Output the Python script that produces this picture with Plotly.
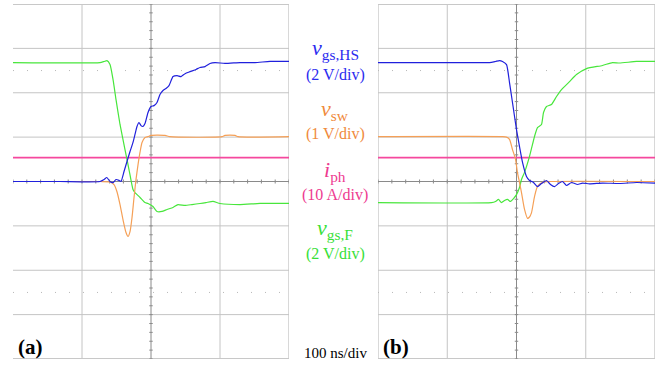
import numpy as np
import plotly.graph_objects as go

# ---------------- data (time in ns, values in V or A) ----------------
# Panel (a)
t_hs_a = [-200, -132, -74, -68, -64, -59.4, -55, -50.7, -46.4, -43.5, -39.1, -34.8, -30.4, -26.1,
          -23.2, -20.3, -17.4, -14.5, -11.6, -8.7, -4.3, 0, 4.3, 8.7, 13, 17.4, 21.7, 26.1, 31.9,
          37.7, 43.5, 49.3, 56.5, 65.2, 71, 78.3, 85.5, 92.8, 107.2, 129, 150.7, 172.5, 200]
v_hs_a = [0, 0, 0, 0.09, 0.18, 0, -0.05, 0.09, 0.05, 0, 0.45, 0.9, 1.35, 1.76,
          2.12, 2.48, 2.66, 2.52, 2.48, 2.61, 3.11, 3.38, 3.42, 3.56, 3.92, 4.10, 4.19, 4.32, 4.73,
          4.77, 4.73, 4.86, 4.95, 5.05, 5.14, 5.18, 5.32, 5.36, 5.32, 5.36, 5.36, 5.41, 5.41]

t_sw_a = [-200, -74, -59.4, -53.6, -49.3, -44.9, -40.6, -36.2, -33.3, -30.4, -27.5, -24.6, -21.7,
          -18.8, -15.9, -13.0, -8.7, -4.3, 0, 20.3, 27.5, 102.9, 107.2, 121.7, 126.1, 200]
v_sw_a = [0, 0, -0.01, -0.07, -0.23, -0.52, -0.86, -1.15, -1.24, -1.13, -0.81, -0.36, 0.05,
          0.38, 0.66, 0.88, 0.99, 1.01, 1.04, 1.04, 1.01, 1.01, 1.04, 1.04, 1.01, 1.01]

t_ph_a = [-200, 200]
i_ph_a = [5.4, 5.4]

t_f_a = [-200, -74, -68, -63.8, -59.4, -55, -50.7, -44.9, -37.7, -31.9, -26.1, -23.2, -15.9, -8.7,
         -4.3, 2.9, 8.7, 15.9, 23.2, 31.9, 39.1, 49.3, 59.4, 71, 79.7, 89.9, 100, 129, 158, 200]
v_f_a = [5.36, 5.36, 5.41, 5.45, 5.27, 4.59, 3.69, 2.57, 1.44, 0.54, -0.36, -0.50, -0.72, -0.95,
         -0.99, -1.13, -1.35, -1.35, -1.26, -1.17, -1.04, -1.08, -1.04, -0.99, -0.95, -0.90, -0.99,
         -1.04, -0.99, -0.99]

# Panel (b)
t_hs_b = [-200, -96.8, -39, -30.3, -24.5, -20.2, -14.4, -10.1, -5.8, 0, 4.3, 8.7, 14.4, 18.8, 24.5,
          30.3, 36.1, 43.3, 49.1, 54.9, 60.6, 66.4, 72.2, 79.4, 88.1, 95.3, 105.4, 124.2, 148.7,
          173.3, 200]
v_hs_b = [5.36, 5.36, 5.36, 5.41, 5.45, 5.41, 5.27, 4.46, 3.56, 2.34, 1.58, 0.86, 0.23, 0.045, -0.045,
          -0.23, -0.09, 0.045, -0.135, -0.23, -0.09, 0, -0.18, -0.045, -0.135, -0.07, -0.11, -0.07,
          -0.09, -0.045, -0.07]

t_sw_b = [-200, -20, -14.4, -10.1, -5.8, -1.4, 1.4, 4.3, 7.2, 11.6, 15.9, 18.8, 21.7, 26.0, 30.3,
          37.5, 47.7, 200]
v_sw_b = [1.01, 1.01, 1.0, 0.95, 0.72, 0.50, 0.20, -0.02, -0.25, -0.63, -0.83, -0.80, -0.70, -0.34,
          -0.11, -0.02, 0, 0]

t_ph_b = [-200, 200]
i_ph_b = [5.4, 5.4]

t_f_b = [-200, -36.1, -30.3, -26.0, -21.7, -17.3, -13.0, -8.7, -4.3, 0, 4.3, 7.2, 11.6, 18.8, 26.0,
         30.3, 36.1, 39.0, 43.3, 50.5, 57.8, 65.0, 76.5, 86.6, 101.1, 124.2, 138.6, 148.7, 173.3, 200]
v_f_b = [-0.95, -0.95, -0.90, -0.81, -0.95, -0.86, -0.81, -0.90, -0.77, -0.59, -0.27, 0.09, 0.41,
         1.13, 2.03, 2.43, 2.57, 3.11, 3.38, 3.47, 3.83, 4.14, 4.50, 4.82, 5.09, 5.23, 5.36, 5.34,
         5.41, 5.41]

# scope settings: units per division
scale_hs = 2    # V/div
scale_sw = 1    # V/div
scale_ph = 10   # A/div
scale_f = 2     # V/div
time_div = 100  # ns/div

C_HS = "#2020dc"
C_SW = "#f5a057"
C_PH = "#f5489e"
C_F = "#48e63c"

W, H = 665, 368
fig = go.Figure()

panels = [
    ("x", "y", t_hs_a, v_hs_a, t_sw_a, v_sw_a, t_ph_a, i_ph_a, t_f_a, v_f_a),
    ("x2", "y2", t_hs_b, v_hs_b, t_sw_b, v_sw_b, t_ph_b, i_ph_b, t_f_b, v_f_b),
]

LW = 1.2
for xr, yr, ths, vhs, tsw, vsw, tph, iph, tf, vf in panels:
    fig.add_trace(go.Scatter(x=tph, y=np.array(iph) / scale_ph, mode="lines",
                             line=dict(color=C_PH, width=1.8), xaxis=xr, yaxis=yr, showlegend=False))
    fig.add_trace(go.Scatter(x=tf, y=np.array(vf) / scale_f, mode="lines", line_shape="spline",
                             line=dict(color=C_F, width=LW, smoothing=0.5), xaxis=xr, yaxis=yr,
                             showlegend=False))
    fig.add_trace(go.Scatter(x=tsw, y=np.array(vsw) / scale_sw, mode="lines", line_shape="spline",
                             line=dict(color=C_SW, width=LW, smoothing=0.6), xaxis=xr, yaxis=yr,
                             showlegend=False))
    fig.add_trace(go.Scatter(x=ths, y=np.array(vhs) / scale_hs, mode="lines", line_shape="spline",
                             line=dict(color=C_HS, width=LW, smoothing=0.5), xaxis=xr, yaxis=yr,
                             showlegend=False))

ydom = [1 - 359 / H, 1 - 4 / H]
axcommon = dict(visible=False, fixedrange=True)
fig.update_layout(
    width=W, height=H,
    margin=dict(l=0, r=0, t=0, b=0),
    paper_bgcolor="white", plot_bgcolor="white",
    xaxis=dict(domain=[13 / W, 289 / W], range=[-2 * time_div, 2 * time_div], anchor="y", **axcommon),
    yaxis=dict(domain=ydom, range=[-4, 4], anchor="x", **axcommon),
    xaxis2=dict(domain=[378 / W, 655 / W], range=[-2 * time_div, 2 * time_div], anchor="y2", **axcommon),
    yaxis2=dict(domain=ydom, range=[-4, 4], anchor="x2", **axcommon),
)

GRID = "#c4c4c4"
AXIS = "#8a8a8a"
shapes = []
for xr, yr, left_edge in (("x", "y", False), ("x2", "y2", True)):
    xs = [-100, 100, 200] + ([-200] if left_edge else [])
    for xv in xs:
        shapes.append(dict(type="line", xref=xr, yref=yr, x0=xv, x1=xv, y0=-4, y1=4,
                           line=dict(color=GRID, width=1.3 if abs(xv) == 200 else 1), layer="below"))
    for yv in (-3, -2, -1, 1, 2, 3):
        shapes.append(dict(type="line", xref=xr, yref=yr, x0=-200, x1=200, y0=yv, y1=yv,
                           line=dict(color=GRID, width=1), layer="below"))
    for yv in (-4, 4):
        shapes.append(dict(type="line", xref=xr, yref=yr, x0=-200, x1=200, y0=yv, y1=yv,
                           line=dict(color="#c8c8c8", width=2), layer="below"))
    for yv in (-2.5, 2.5):
        shapes.append(dict(type="line", xref=xr, yref=yr, x0=-200, x1=200, y0=yv, y1=yv,
                           line=dict(color="#b8b8b8", width=1, dash="1px,13px"), layer="below"))
    # center axes
    shapes.append(dict(type="line", xref=xr, yref=yr, x0=0, x1=0, y0=-4, y1=4,
                       line=dict(color=AXIS, width=1), layer="below"))
    shapes.append(dict(type="line", xref=xr, yref=yr, x0=-200, x1=200, y0=0, y1=0,
                       line=dict(color=AXIS, width=1), layer="below"))
    for yv in np.arange(-4, 4.001, 0.2):
        shapes.append(dict(type="line", xref=xr, yref=yr, x0=-2.5, x1=2.5, y0=yv, y1=yv,
                           line=dict(color=AXIS, width=1), layer="below"))
    for xv in np.arange(-200, 200.1, 20):
        shapes.append(dict(type="line", xref=xr, yref=yr, x0=xv, x1=xv, y0=-0.045, y1=0.045,
                           line=dict(color=AXIS, width=1), layer="below"))
fig.update_layout(shapes=shapes)

SERIF = "Liberation Serif"
labels = [
    ("<i>v</i><sub>gs,HS</sub>", 49, 22, "#2b2bef"),
    ("(2 V/div)", 75, 16, "#2b2bef"),
    ("<i>v</i><sub>sw</sub>", 110, 22, "#f08a3c"),
    ("(1 V/div)", 134, 16, "#f08a3c"),
    ("<i>i</i><sub>ph</sub>", 171, 22, "#ee3a90"),
    ("(10 A/div)", 195, 16, "#ee3a90"),
    ("<i>v</i><sub>gs,F</sub>", 229, 22, "#38e038"),
    ("(2 V/div)", 254, 16, "#38e038"),
    ("100 ns/div", 353, 15, "black"),
]
ann = []
for txt, ypx, size, col in labels:
    ann.append(dict(text=txt, x=335 / W, y=1 - ypx / H, xref="paper", yref="paper",
                    xanchor="center", yanchor="middle", showarrow=False,
                    font=dict(family=SERIF, size=size, color=col)))
for txt, xpx in (("(a)", 30), ("(b)", 396)):
    ann.append(dict(text="<b>" + txt + "</b>", x=xpx / W, y=1 - 347 / H, xref="paper", yref="paper",
                    xanchor="center", yanchor="middle", showarrow=False,
                    font=dict(family=SERIF, size=21, color="black")))
fig.update_layout(annotations=ann)

fig.write_html("out.html")
